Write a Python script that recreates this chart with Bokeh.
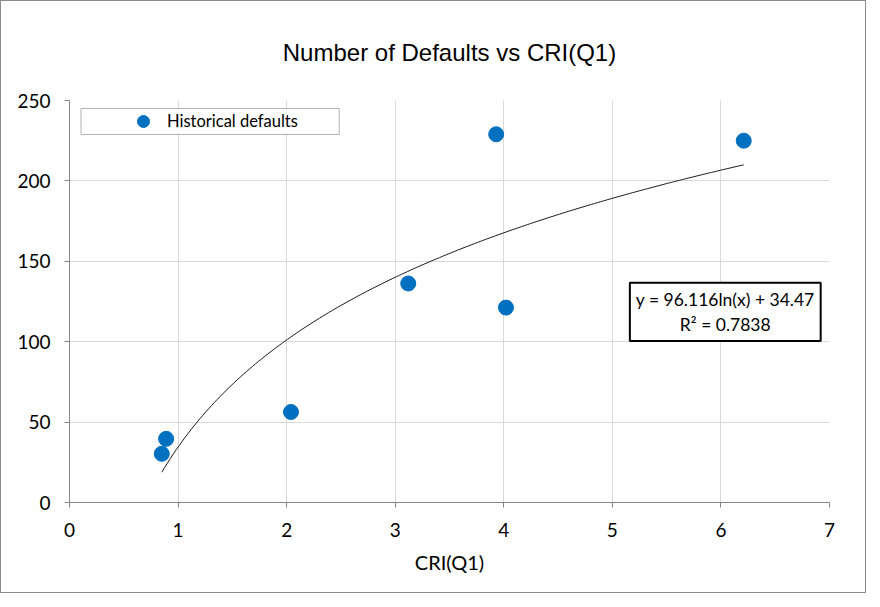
import numpy as np
from bokeh.plotting import figure
from bokeh.models import Label, Legend, LegendItem, FixedTicker, Range1d, BoxAnnotation
from bokeh.embed import file_html
from bokeh.resources import INLINE

# data
cri_q1 = [0.85, 0.89, 2.04, 3.12, 3.93, 4.02, 6.21]
defaults = [30.3, 39.6, 56.3, 136.2, 229.0, 121.2, 225.0]

# trendline coefficients shown in the chart: y = a ln(x) + b
trend_a = 96.116
trend_b = 34.47
r_squared = 0.7838

x_ticks = [0, 1, 2, 3, 4, 5, 6, 7]
y_ticks = [0, 50, 100, 150, 200, 250]

CAL = "Lato"

p = figure(
    frame_width=760, frame_height=402,
    min_border_left=68, min_border_right=36,
    min_border_top=99, min_border_bottom=90,
    x_range=Range1d(0, 7), y_range=Range1d(0, 250),
    output_backend="svg", toolbar_location=None,
    title="Number of Defaults vs CRI(Q1)",
)
p.styles = {"border": "1px solid #8c8c8c", "box-sizing": "border-box"}

p.title.align = "center"
p.title.text_font = "Liberation Sans"
p.title.text_font_style = "normal"
p.title.text_font_size = "24px"
p.title.text_color = "#000000"
p.title.standoff = 70

p.outline_line_color = None
p.background_fill_color = "white"
p.border_fill_color = "white"

for g in (p.xgrid, p.ygrid):
    g.grid_line_color = "#d9d9d9"
    g.grid_line_width = 1
p.xgrid.ticker = FixedTicker(ticks=x_ticks)
p.ygrid.ticker = FixedTicker(ticks=y_ticks)

for ax in (p.xaxis[0], p.yaxis[0]):
    ax.axis_line_color = "#868686"
    ax.major_tick_line_color = "#868686"
    ax.major_tick_out = 5
    ax.major_tick_in = 0
    ax.minor_tick_line_color = None
    ax.major_label_text_font = CAL
    ax.major_label_text_font_size = "19px"
    ax.major_label_text_color = "#000000"
p.xaxis.ticker = FixedTicker(ticks=x_ticks)
p.yaxis.ticker = FixedTicker(ticks=y_ticks)
p.xaxis.major_label_standoff = 15
p.yaxis.major_label_standoff = 14
p.xaxis.axis_label = "CRI(Q1)"
p.xaxis.axis_label_text_font = CAL
p.xaxis.axis_label_text_font_size = "20px"
p.xaxis.axis_label_text_font_style = "normal"
p.xaxis.axis_label_text_color = "#000000"
p.xaxis.axis_label_standoff = 10

# trendline from the displayed equation, over the data's x span
tx = np.linspace(min(cri_q1), max(cri_q1), 200)
ty = trend_a * np.log(tx) + trend_b
p.line(tx, ty, line_color="#1a1a1a", line_width=1)

pts = p.scatter(cri_q1, defaults, size=15, marker="circle",
                fill_color="#0070C0", line_color="#0070C0")

# legend frame
p.add_layout(BoxAnnotation(
    left=0.106, right=2.484, top=245.0, bottom=228.9,
    fill_color="white", fill_alpha=1.0,
    line_color="#000000", line_width=1, level="annotation",
))

legend = Legend(
    items=[LegendItem(label="Historical defaults", renderers=[pts])],
    location=(50, 366),
    margin=0,
    padding=0,
    glyph_width=48,
    glyph_height=30,
    label_standoff=0,
    label_text_font=CAL,
    label_text_font_size="16.5px",
    label_text_color="#000000",
    border_line_color=None,
    background_fill_alpha=0.0,
)
p.add_layout(legend)

eq = Label(
    x=6.04, y=118.5, x_units="data", y_units="data",
    text=f"y = {trend_a}ln(x) + {trend_b}\nR\u00b2 = {r_squared}",
    text_align="center", text_baseline="middle",
    text_font=CAL, text_font_size="17.5px", text_color="#000000",
    border_line_color="#000000", border_line_width=2,
    background_fill_color="white",
    padding=6,
)
p.add_layout(eq)

open("out.html", "w").write(file_html(p, INLINE))
